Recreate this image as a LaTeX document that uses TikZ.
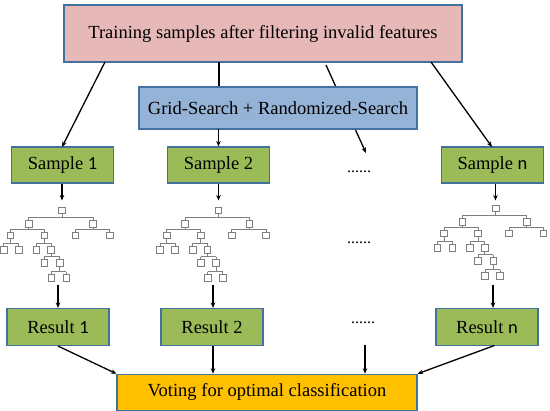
\documentclass[tikz,border=0pt]{standalone}
\usepackage{fontspec}
\setmainfont{Liberation Serif}
\newfontfamily\calfont{Carlito}
\usetikzlibrary{arrows.meta}
\definecolor{pinkfill}{HTML}{E6B9B8}
\definecolor{bluefill}{HTML}{95B3D7}
\definecolor{greenfill}{HTML}{9BBB59}
\definecolor{orangefill}{HTML}{FFC000}
\definecolor{edgeblue}{HTML}{41719C}
\definecolor{treegray}{HTML}{7F7F7F}
\tikzset{
  box/.style={draw=edgeblue, line width=1.1pt, inner sep=0pt, font=\fontsize{18.5}{20}\selectfont},
  topbox/.style={box, fill=pinkfill, minimum width=398pt, minimum height=57pt},
  gridbox/.style={box, fill=bluefill, minimum width=278pt, minimum height=42pt},
  samplebox/.style={box, fill=greenfill, minimum width=102pt, minimum height=36pt},
  resultbox/.style={box, fill=greenfill, minimum width=102pt, minimum height=37pt},
  votebox/.style={box, fill=orangefill, minimum width=300pt, minimum height=36pt},
  dotstext/.style={inner sep=0pt, font=\fontsize{16}{16}\selectfont},
  arr/.style={line width=1.3pt, -{Stealth[length=5.5pt,width=4.5pt]}},
  plainline/.style={line width=1.3pt},
  treeline/.style={draw=treegray, line width=0.8pt},
  tbox/.style={draw=treegray, fill=white, line width=0.8pt}
}
\newcommand\tsq[2]{\draw[tbox] ({#1-3.3},{#2-3.3}) rectangle ({#1+3.3},{#2+3.3});}
\newcommand\tfork[5]{%
  \draw[treeline] (#1,{#2+3.3}) -- (#1,{#3-6.5});
  \draw[treeline] (#4,{#3-6.5}) -- (#5,{#3-6.5});
  \draw[treeline] (#4,{#3-6.5}) -- (#4,{#3-3.3});
  \draw[treeline] (#5,{#3-6.5}) -- (#5,{#3-3.3});
  \tsq{#4}{#3}\tsq{#5}{#3}}
\newcommand\drawtree[2]{%
  \begin{scope}[shift={(#1,#2)}]
    \tsq{0}{0}
    \tfork{0}{0}{13.3}{-33.3}{31}
    \tfork{-33.3}{13.3}{25}{-51.6}{-17.6}
    \tfork{31}{13.3}{25}{13.4}{47.7}
    \tfork{-51.6}{25}{39.3}{-58.3}{-43.3}
    \tfork{-17.6}{25}{39.3}{-25.6}{-11}
    \tfork{-11}{39.3}{52.6}{-17.6}{-2.3}
    \tfork{-2.3}{52.6}{67.6}{-10.6}{4.4}
  \end{scope}}
\begin{document}
\begin{tikzpicture}[x=1pt,y=-1pt]
\useasboundingbox (0,0) rectangle (550,411);
% top box
\node[topbox] (top) at (263,33.5) {Training samples after filtering invalid features};
% line running behind the grid box
\coordinate (tA) at (326,65);
\node[dotstext] (dots1) at (359,172) {......};
\coordinate (d1top) at (366,153);
\draw[arr] (tA) -- (d1top);
% grid box
\node[gridbox] (grid) at (278,108) {Grid-Search + Randomized-Search};
% samples
\node[samplebox] (s1) at (62.5,165) {Sample {\calfont 1}};
\node[samplebox] (s2) at (218.5,165) {Sample 2};
\node[samplebox] (sn) at (492.5,165) {Sample {\calfont n}};
% connectors from top
\coordinate (tL) at (105,62);
\coordinate (tM) at (219,62);
\coordinate (tR) at (431,62);
\coordinate (s1in) at (62,147);
\coordinate (snin) at (492,147);
\draw[arr] (tL) -- (s1in);
\draw[arr] (tR) -- (snin);
\draw[plainline] (tM) -- (grid.north -| tM);
\coordinate (gB) at (218.5,129);
\draw[arr] (gB) -- (s2.north);
% trees
\drawtree{62}{210.5}
\drawtree{218.3}{210.5}
\drawtree{495.7}{208.5}
\coordinate (r1s) at (62,200.5);
\coordinate (r2s) at (218.5,200.5);
\coordinate (rns) at (495.5,200.5);
\draw[arr] (s1.south -| r1s) -- (r1s);
\draw[arr] (s2.south) -- (r2s);
\draw[arr] (sn.south -| rns) -- (rns);
\node[dotstext] (dots2) at (359,243) {......};
% results
\node[resultbox] (r1) at (58,327) {Result {\calfont 1}};
\node[resultbox] (r2) at (212,327) {Result 2};
\node[resultbox] (rn) at (487,327) {Result {\calfont n}};
\node[dotstext] (dots3) at (363,323) {......};
\coordinate (t1b) at (58,285);
\coordinate (t2b) at (213,285);
\coordinate (tnb) at (493,285);
\draw[arr] (t1b) -- (r1.north -| t1b);
\draw[arr] (t2b) -- (r2.north -| t2b);
\draw[arr] (tnb) -- (rn.north -| tnb);
% voting
\node[votebox] (vote) at (267,392.3) {Voting for optimal classification};
\coordinate (d3b) at (365,345);
\draw[arr] (r1.south) -- (vote.north west);
\draw[arr] (r2.south -| t2b) -- (vote.north -| t2b);
\draw[arr] (d3b) -- (vote.north -| d3b);
\coordinate (rnb) at (494.5,345.5);
\draw[arr] (rnb) -- (vote.north east);
\end{tikzpicture}
\end{document}
